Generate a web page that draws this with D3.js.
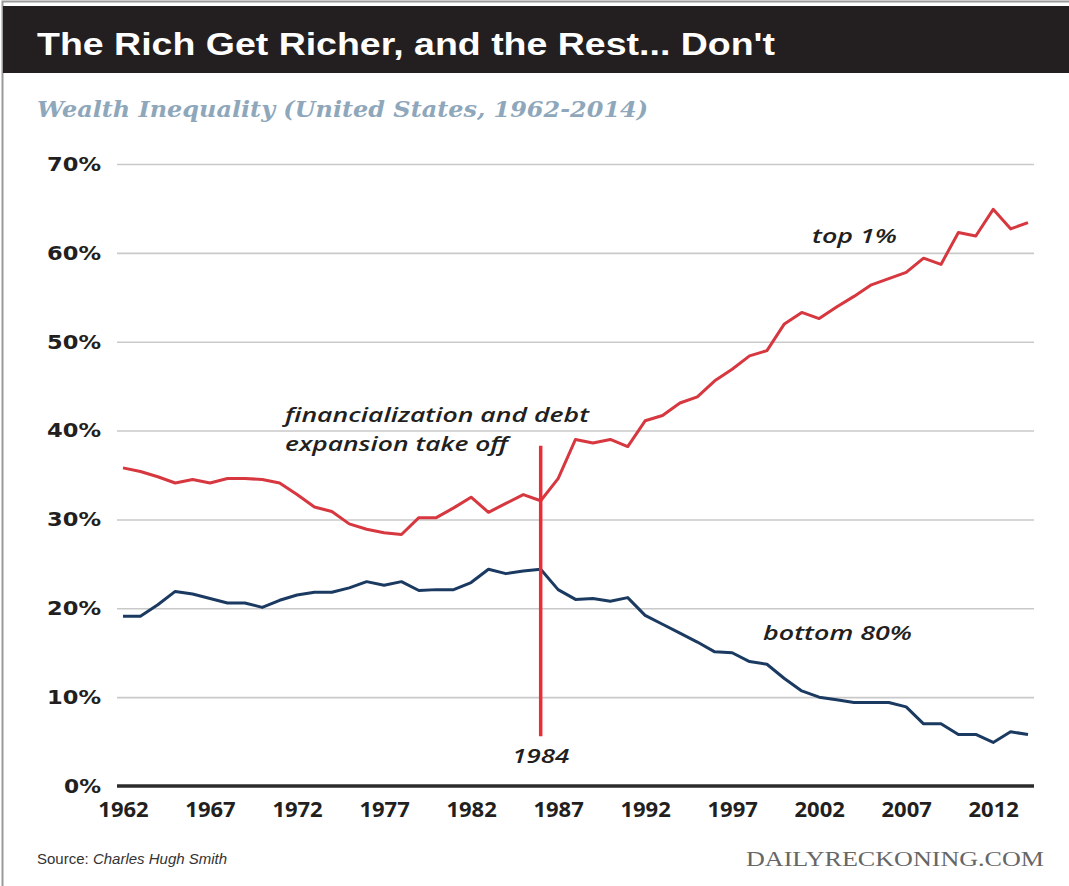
<!DOCTYPE html>
<html>
<head>
<meta charset="utf-8">
<script src="https://cdn.jsdelivr.net/npm/d3@7/dist/d3.min.js"></script>
<style>
  body { margin: 0; background: #fff; }
  svg { display: block; }
</style>
</head>
<body>
<div id="chart"></div>
<script>
// Data
// =================================
var years = [1962, 1963, 1964, 1965, 1966, 1967, 1968, 1969, 1970, 1971,
    1972, 1973, 1974, 1975, 1976, 1977, 1978, 1979, 1980, 1981,
    1982, 1983, 1984, 1985, 1986, 1987, 1988, 1989, 1990, 1991,
    1992, 1993, 1994, 1995, 1996, 1997, 1998, 1999, 2000, 2001,
    2002, 2003, 2004, 2005, 2006, 2007, 2008, 2009, 2010, 2011,
    2012, 2013, 2014];

var top1 = [35.8, 35.4, 34.8, 34.1, 34.5, 34.1, 34.6, 34.6, 34.5, 34.1,
    32.8, 31.4, 30.9, 29.5, 28.9, 28.5, 28.3, 30.2, 30.2, 31.3,
    32.5, 30.8, 31.8, 32.8, 32.1, 34.6, 39.0, 38.6, 39.0, 38.2,
    41.1, 41.7, 43.1, 43.8, 45.6, 46.9, 48.4, 49.0, 52.0, 53.3,
    52.6, 53.9, 55.1, 56.4, 57.1, 57.8, 59.4, 58.7, 62.3, 61.9,
    64.9, 62.7, 63.4];

var bottom80 = [19.1, 19.1, 20.4, 21.9, 21.6, 21.1, 20.6, 20.6, 20.1, 20.9,
    21.5, 21.8, 21.8, 22.3, 23.0, 22.6, 23.0, 22.0, 22.1, 22.1,
    22.9, 24.4, 23.9, 24.2, 24.4, 22.1, 21.0, 21.1, 20.8, 21.2,
    19.2, 18.2, 17.2, 16.2, 15.1, 15.0, 14.0, 13.7, 12.1, 10.7,
    10.0, 9.7, 9.4, 9.4, 9.4, 8.9, 7.0, 7.0, 5.8, 5.8,
    4.9, 6.1, 5.8];

var xTicks = [1962, 1967, 1972, 1977, 1982, 1987, 1992, 1997, 2002, 2007, 2012];
var yTicks = [0, 10, 20, 30, 40, 50, 60, 70];

// the source drew its "1984" line over this point of the series
var markerYear = 1986;
var markerLabel = "1984";
var markerSpan = [5.6, 38.3];

// Step 1: Set up the chart
// =================================
var svgWidth = 1069;
var svgHeight = 886;

var gridLeft = 117;
var gridRight = 1034;

var red = "#d7373f";
var navy = "#1b3a62";
var ink = "#231f20";

var svg = d3.select("#chart")
    .append("svg")
    .attr("width", svgWidth)
    .attr("height", svgHeight);

// frame + header bar
svg.append("rect")
    .attr("x", 2.5).attr("y", 1.5)
    .attr("width", svgWidth).attr("height", svgHeight)
    .attr("fill", "#fff")
    .attr("stroke", "#9a9a9a")
    .attr("stroke-width", 2);

svg.append("rect")
    .attr("x", 3).attr("y", 6)
    .attr("width", svgWidth - 3).attr("height", 67)
    .attr("fill", ink);

svg.append("text")
    .attr("x", 37).attr("y", 55)
    .attr("font-family", "Liberation Sans, Arial, sans-serif")
    .attr("font-weight", "bold")
    .attr("font-size", 31)
    .attr("fill", "#fff")
    .attr("textLength", 738)
    .attr("lengthAdjust", "spacingAndGlyphs")
    .text("The Rich Get Richer, and the Rest... Don't");

svg.append("text")
    .attr("x", 37).attr("y", 117)
    .attr("font-family", "DejaVu Serif, Liberation Serif, serif")
    .attr("font-weight", "bold")
    .attr("font-style", "italic")
    .attr("font-size", 23)
    .attr("fill", "#8ea7bb")
    .attr("textLength", 611)
    .attr("lengthAdjust", "spacingAndGlyphs")
    .text("Wealth Inequality (United States, 1962-2014)");

// Step 2: scales and axes
// =================================
var xScale = d3.scaleLinear()
    .domain([d3.min(years), d3.max(years)])
    .range([123, 1028]);

var yScale = d3.scaleLinear()
    .domain([0, 70])
    .range([786, 164]);

var leftAxis = d3.axisLeft(yScale)
    .tickValues(yTicks)
    .tickSize(-(gridRight - gridLeft))
    .tickPadding(16)
    .tickFormat(d => d + "%");

var yAxis = svg.append("g")
    .attr("transform", `translate(${gridLeft}, 0)`)
    .call(leftAxis);

yAxis.select(".domain").remove();
yAxis.selectAll(".tick line")
    .attr("stroke", d => d === 0 ? "none" : "#c9c9c9")
    .attr("stroke-width", 1.6);
yAxis.selectAll(".tick text")
    .attr("font-family", "DejaVu Sans, Verdana, sans-serif")
    .attr("font-weight", "bold")
    .attr("font-size", 20)
    .attr("fill", ink)
    .attr("textLength", d => d === 0 ? 37 : 54)
    .attr("lengthAdjust", "spacingAndGlyphs");

var bottomAxis = d3.axisBottom(xScale)
    .tickValues(xTicks)
    .tickSize(0)
    .tickPadding(15)
    .tickFormat(d3.format("d"));

var xAxis = svg.append("g")
    .attr("transform", `translate(0, ${yScale(0)})`)
    .call(bottomAxis);

xAxis.select(".domain").remove();
xAxis.selectAll(".tick text")
    .attr("font-family", "Open Sans, Liberation Sans, sans-serif")
    .attr("font-weight", "bold")
    .attr("font-size", 22)
    .attr("fill", ink);

// baseline
svg.append("line")
    .attr("x1", gridLeft).attr("x2", gridRight)
    .attr("y1", yScale(0)).attr("y2", yScale(0))
    .attr("stroke", "#2b2b2b")
    .attr("stroke-width", 3.5);

// Step 3: lines
// =================================
var line = d3.line()
    .x((d, i) => xScale(years[i]))
    .y(d => yScale(d));

svg.append("path")
    .datum(top1)
    .attr("d", line)
    .attr("fill", "none")
    .attr("stroke", red)
    .attr("stroke-width", 3)
    .attr("stroke-linejoin", "round");

svg.append("path")
    .datum(bottom80)
    .attr("d", line)
    .attr("fill", "none")
    .attr("stroke", navy)
    .attr("stroke-width", 3)
    .attr("stroke-linejoin", "round");

// 1984 marker
svg.append("line")
    .attr("x1", xScale(markerYear)).attr("x2", xScale(markerYear))
    .attr("y1", yScale(markerSpan[1])).attr("y2", yScale(markerSpan[0]))
    .attr("stroke", "#ea2e38")
    .attr("stroke-width", 3.5);

// Step 4: annotations
// =================================
function note(x, y, str, len, anchor) {
    svg.append("text")
        .attr("x", x).attr("y", y)
        .attr("text-anchor", anchor || "start")
        .attr("font-family", "Open Sans, Liberation Sans, sans-serif")
        .attr("font-weight", 600)
        .attr("font-style", "italic")
        .attr("font-size", 20)
        .attr("fill", ink)
        .attr("textLength", len)
        .attr("lengthAdjust", "spacingAndGlyphs")
        .text(str);
}

note(285, 422, "financialization and debt", 304);
note(285, 451, "expansion take off", 223);
note(812, 243, "top 1%", 85);
note(763, 640, "bottom 80%", 149);
note(xScale(markerYear), 763, markerLabel, 57, "middle");

// Source + credit
var src = svg.append("text")
    .attr("x", 37).attr("y", 864)
    .attr("font-family", "Liberation Sans, Arial, sans-serif")
    .attr("font-size", 15)
    .attr("fill", "#333");
src.append("tspan").text("Source: ");
src.append("tspan").attr("font-style", "italic").text("Charles Hugh Smith");

svg.append("text")
    .attr("x", 1044).attr("y", 866)
    .attr("text-anchor", "end")
    .attr("font-family", "Liberation Serif, Times New Roman, serif")
    .attr("font-size", 20)
    .attr("fill", "#666")
    .attr("textLength", 298)
    .attr("lengthAdjust", "spacingAndGlyphs")
    .text("DAILYRECKONING.COM");
</script>
</body>
</html>
